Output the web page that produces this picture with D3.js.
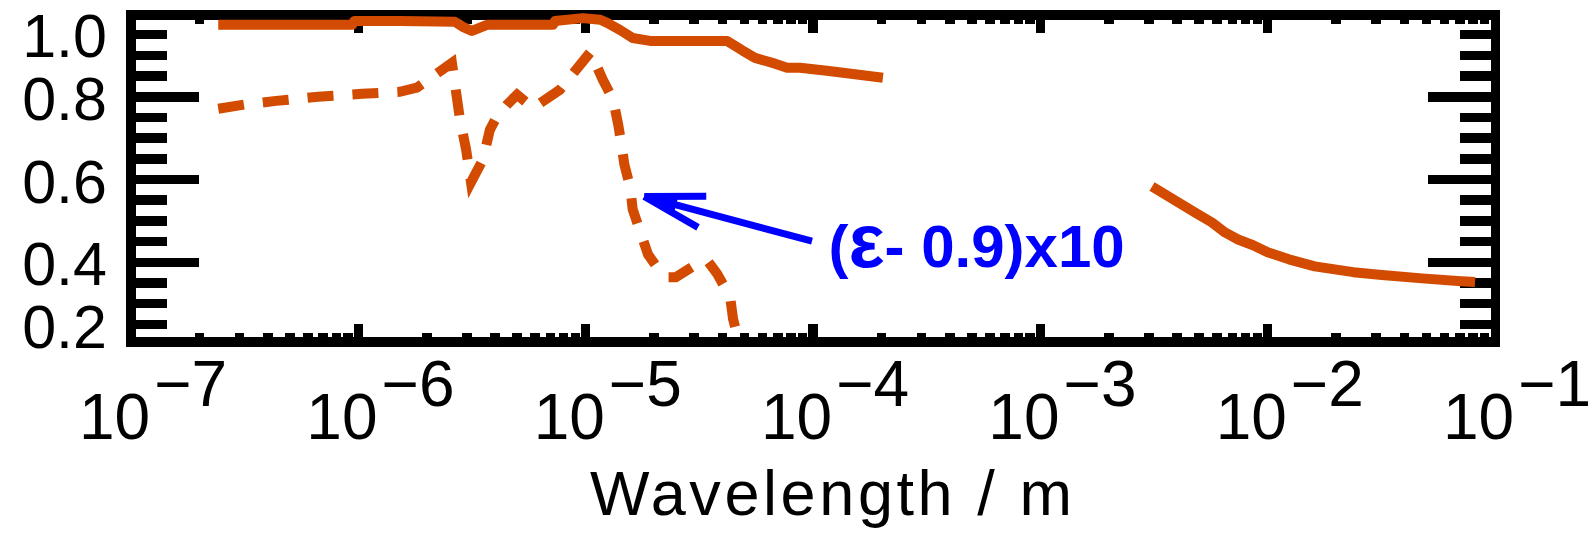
<!DOCTYPE html>
<html>
<head>
<meta charset="utf-8">
<script src="https://cdnjs.cloudflare.com/ajax/libs/d3/7.8.5/d3.min.js"></script>
<style>
  html, body { margin: 0; padding: 0; background: #fff; }
  svg { display: block; font-family: 'Liberation Sans', Arial, sans-serif; }
</style>
</head>
<body>
<script>
'use strict';

// emissivity, short wavelength part (solid)
var solidShortWl = [2.42e-7, 9.4e-7, 9.6e-7, 1.52e-6, 2.66e-6, 2.88e-6, 3.16e-6, 3.68e-6, 7.18e-6, 7.33e-6,
  9.7e-6, 1.16e-5, 1.25e-5, 1.42e-5, 1.61e-5, 1.92e-5, 4.19e-5, 4.92e-5, 5.56e-5, 6.81e-5,
  7.7e-5, 8.77e-5, 1.15e-4, 1.5e-4, 2.03e-4];
var solidShortEps = [0.974, 0.974, 0.983, 0.983, 0.981, 0.969, 0.959, 0.974, 0.974, 0.983,
  0.990, 0.986, 0.978, 0.961, 0.942, 0.935, 0.935, 0.911, 0.894, 0.880,
  0.870, 0.870, 0.863, 0.855, 0.846];

// emissivity, long wavelength part (solid)
var solidLongWl = [3.10e-3, 4.79e-3, 5.69e-3, 6.49e-3, 7.41e-3, 8.63e-3, 1.00e-2, 1.24e-2,
  1.61e-2, 2.38e-2, 3.18e-2, 4.78e-2, 7.10e-2, 8.17e-2];
var solidLongEps = [0.583, 0.520, 0.496, 0.472, 0.455, 0.441, 0.424, 0.407,
  0.390, 0.376, 0.369, 0.361, 0.354, 0.352];

// (eps - 0.9) x 10 (dashed)
var dashedWl = [2.42e-7, 3.14e-7, 4.35e-7, 6.65e-7, 1.04e-6, 1.52e-6, 1.81e-6, 2.58e-6, 2.80e-6, 2.98e-6,
  3.13e-6, 3.53e-6, 3.79e-6, 4.07e-6, 4.51e-6, 4.99e-6, 5.86e-6, 7.71e-6, 1.05e-5, 1.19e-5,
  1.32e-5, 1.39e-5, 1.43e-5, 1.48e-5, 1.57e-5, 1.61e-5, 1.73e-5, 1.88e-5, 2.12e-5, 2.30e-5,
  2.49e-5, 3.21e-5, 3.45e-5, 3.78e-5, 4.32e-5, 4.45e-5, 4.73e-5];
var dashedVal = [0.771, 0.781, 0.790, 0.800, 0.807, 0.812, 0.822, 0.882, 0.745, 0.672,
  0.593, 0.648, 0.720, 0.752, 0.781, 0.805, 0.773, 0.817, 0.908, 0.841,
  0.793, 0.733, 0.692, 0.636, 0.581, 0.528, 0.477, 0.419, 0.378, 0.364,
  0.364, 0.402, 0.402, 0.373, 0.316, 0.263, 0.207];

var xTickExps = [-7, -6, -5, -4, -3, -2, -1];
var yTickLabels = ['0.2', '0.4', '0.6', '0.8', '1.0'];
var xTitle = 'Wavelength / m';

// annotation, in data units
var arrowTip = [1.81e-5, 0.559];
var arrowTail = [9.9e-5, 0.451];
var notePos = [1.17e-4, 0.388];

var orange = '#d34b00';
var blue = '#0000ff';

var width = 1595, height = 533;
var x = d3.scaleLog().domain([1e-7, 1e-1]).range([131, 1495]);
var y = d3.scaleLinear().domain([0.2, 1.0]).range([345, 14]);

var svg = d3.select('body').append('svg')
  .attr('width', width)
  .attr('height', height);

var frameTop = 15, frameBottom = 342, frameLeft = 131, frameRight = 1495.5;

// frame
svg.append('rect')
  .attr('x', frameLeft).attr('y', frameTop)
  .attr('width', frameRight - frameLeft).attr('height', frameBottom - frameTop)
  .attr('fill', 'none')
  .attr('stroke', '#000')
  .attr('stroke-width', 9.5)
  .attr('shape-rendering', 'crispEdges');

// y ticks, both sides
var yMajor = y.ticks(4).map(function (d) { return +d.toFixed(2); });
var yMinor = y.ticks(16).filter(function (d) { return d > 0.21 && d < 0.99; });
var ticks = svg.append('g')
  .attr('stroke', '#000')
  .attr('stroke-width', 9.5)
  .attr('shape-rendering', 'crispEdges');

yMinor.forEach(function (v) {
  var isMajor = yMajor.some(function (m) { return Math.abs(m - v) < 1e-6; });
  var len = isMajor ? 68 : 36;
  ticks.append('line')
    .attr('x1', frameLeft).attr('x2', frameLeft + len)
    .attr('y1', y(v)).attr('y2', y(v));
  ticks.append('line')
    .attr('x1', frameRight).attr('x2', frameRight - len)
    .attr('y1', y(v)).attr('y2', y(v));
});

// x ticks, top and bottom
x.ticks().forEach(function (d) {
  var e = Math.log10(d);
  var isMajor = Math.abs(e - Math.round(e)) < 1e-6;
  if (d <= 1e-7 * 1.01 || d >= 1e-1 * 0.99) return;
  var len = isMajor ? 18 : 9;
  ticks.append('line')
    .attr('x1', x(d)).attr('x2', x(d))
    .attr('y1', frameBottom).attr('y2', frameBottom - len);
  ticks.append('line')
    .attr('x1', x(d)).attr('x2', x(d))
    .attr('y1', frameTop).attr('y2', frameTop + len);
});

// y labels
svg.append('g').selectAll('text')
  .data(yTickLabels)
  .enter()
  .append('text')
  .attr('x', 107)
  .attr('y', function (d) { return Math.min(348, Math.max(57, y(+d) + 23)); })
  .attr('text-anchor', 'end')
  .attr('font-size', 61)
  .text(function (d) { return d; });

// x labels
var xl = svg.append('g').selectAll('text')
  .data(xTickExps)
  .enter()
  .append('text')
  .attr('x', function (d) { return x(Math.pow(10, d)) - 52; })
  .attr('y', 439)
  .attr('font-size', 64);
xl.append('tspan').text('10');
xl.append('tspan')
  .attr('dx', 4)
  .attr('dy', -33)
  .text(function (d) { return '\u2212' + Math.abs(d); });

// x title
svg.append('text')
  .attr('x', 590)
  .attr('y', 515)
  .attr('font-size', 63)
  .attr('textLength', 482)
  .attr('lengthAdjust', 'spacing')
  .text(xTitle);

// curves
var line = d3.line()
  .x(function (d) { return x(d[0]); })
  .y(function (d) { return y(d[1]); });

svg.append('path')
  .datum(d3.zip(solidShortWl, solidShortEps))
  .attr('d', line)
  .attr('fill', 'none')
  .attr('stroke', orange)
  .attr('stroke-width', 10)
  .attr('stroke-linejoin', 'round');

svg.append('path')
  .datum(d3.zip(solidLongWl, solidLongEps))
  .attr('d', line)
  .attr('fill', 'none')
  .attr('stroke', orange)
  .attr('stroke-width', 10)
  .attr('stroke-linejoin', 'round');

svg.append('path')
  .datum(d3.zip(dashedWl, dashedVal))
  .attr('d', line)
  .attr('fill', 'none')
  .attr('stroke', orange)
  .attr('stroke-width', 10)
  .attr('stroke-dasharray', '26,19');

// arrow
var tx = x(arrowTip[0]), ty = y(arrowTip[1]);
var ex = x(arrowTail[0]), ey = y(arrowTail[1]);
var ang = Math.atan2(ey - ty, ex - tx);
var spread = 15 * Math.PI / 180;
var barb = 62;
var b1 = [tx + barb * Math.cos(ang - spread), ty + barb * Math.sin(ang - spread)];
var b2 = [tx + barb * Math.cos(ang + spread), ty + barb * Math.sin(ang + spread)];
var arrow = svg.append('g')
  .attr('stroke', blue)
  .attr('stroke-width', 7)
  .attr('fill', blue);
arrow.append('line')
  .attr('x1', tx).attr('y1', ty)
  .attr('x2', ex).attr('y2', ey);
arrow.append('path')
  .attr('d', 'M' + tx + ',' + ty + 'L' + b1[0] + ',' + b1[1] + 'M' + tx + ',' + ty + 'L' + b2[0] + ',' + b2[1]);
arrow.append('path')
  .attr('stroke', 'none')
  .attr('d', 'M' + tx + ',' + ty +
    'L' + (tx + 0.55 * (b1[0] - tx)) + ',' + (ty + 0.55 * (b1[1] - ty)) +
    'L' + (tx + 0.55 * (b2[0] - tx)) + ',' + (ty + 0.55 * (b2[1] - ty)) + 'Z');

// note
var note = svg.append('text')
  .attr('x', x(notePos[0]))
  .attr('y', y(notePos[1]))
  .attr('font-size', 60)
  .attr('font-weight', 'bold')
  .attr('fill', blue);
note.append('tspan').text('(');
note.append('tspan').attr('font-size', 76).text('\u03b5');
note.append('tspan').text('- 0.9)x10');
</script>
</body>
</html>
